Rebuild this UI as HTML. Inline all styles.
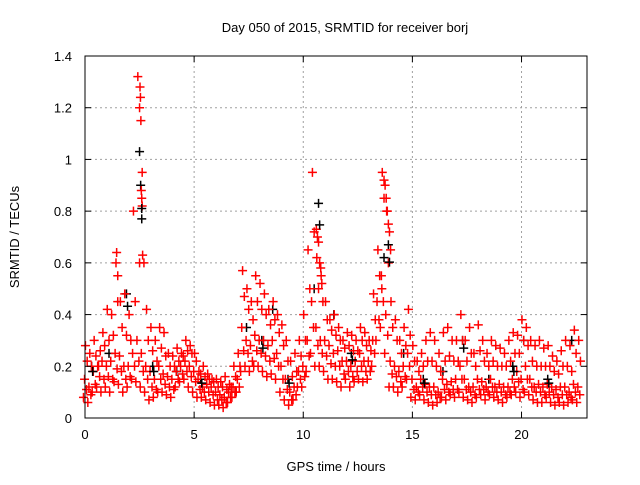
<!DOCTYPE html>
<html><head><meta charset="utf-8"><style>
body{margin:0;background:#fff;font-family:"Liberation Sans",sans-serif}
svg text{font-family:"Liberation Sans",sans-serif;font-size:13px;fill:#000}
</style></head><body>
<svg id="chart" width="640" height="480" xmlns="http://www.w3.org/2000/svg">
<rect width="640" height="480" fill="#fff"/>
<g id="grid"></g><g id="pts"></g><g id="axes"></g>
<text x="345" y="32" text-anchor="middle">Day 050 of 2015, SRMTID for receiver borj</text>
<text x="336" y="471" text-anchor="middle">GPS time / hours</text>
<text x="19" y="237" text-anchor="middle" transform="rotate(-90 19 237)">SRMTID / TECUs</text>
</svg>
<script>
const xTicks=[0,5,10,15,20];
const yTicks=[0,0.2,0.4,0.6,0.8,1,1.2,1.4];
const yTickLabels=["0","0.2","0.4","0.6","0.8","1","1.2","1.4"];
const hours=[0,0.2,0.4,0.6,0.8,1,1.2,1.4,1.6,1.8,2,2.2,2.4,2.6,2.8,3,3.2,3.4,3.6,3.8,4,4.2,4.4,4.6,4.8,5,5.2,5.4,5.6,5.8,6,6.2,6.4,6.6,6.8,7,7.2,7.4,7.6,7.8,8,8.2,8.4,8.6,8.8,9,9.2,9.4,9.6,9.8,10,10.2,10.4,10.6,10.8,11,11.2,11.4,11.6,11.8,12,12.2,12.4,12.6,12.8,13,13.2,13.4,13.6,13.8,14,14.2,14.4,14.6,14.8,15,15.2,15.4,15.6,15.8,16,16.2,16.4,16.6,16.8,17,17.2,17.4,17.6,17.8,18,18.2,18.4,18.6,18.8,19,19.2,19.4,19.6,19.8,20,20.2,20.4,20.6,20.8,21,21.2,21.4,21.6,21.8,22,22.2,22.4,22.6];
const hiVals=[.28,.25,.3,.2,.33,.42,.4,.6,.45,.48,.4,.8,1.32,.95,.42,.35,.3,.35,.33,.25,.24,.27,.25,.3,.28,.25,.18,.2,.17,.15,.15,.14,.16,.13,.2,.25,.57,.5,.45,.55,.52,.48,.42,.45,.4,.36,.3,.22,.25,.3,.4,.65,.95,.62,.55,.45,.38,.4,.35,.3,.33,.32,.3,.35,.33,.3,.48,.65,.95,.8,.45,.38,.3,.35,.42,.28,.22,.25,.3,.33,.3,.25,.33,.35,.3,.3,.4,.3,.35,.25,.36,.3,.25,.3,.28,.27,.25,.3,.33,.32,.38,.35,.3,.28,.3,.27,.28,.24,.22,.26,.3,.28,.34,.3];
const q3Vals=[.22,.2,.24,.26,.28,.3,.32,.45,.35,.32,.3,.45,1.2,.6,.3,.26,.22,.27,.24,.2,.2,.22,.24,.26,.25,.22,.17,.16,.15,.14,.12,.12,.11,.12,.16,.2,.47,.42,.38,.45,.42,.4,.36,.38,.33,.28,.22,.16,.18,.24,.3,.5,.72,.5,.45,.38,.34,.32,.3,.27,.28,.26,.26,.3,.28,.26,.38,.55,.85,.6,.35,.3,.25,.28,.32,.22,.18,.2,.22,.22,.2,.18,.22,.24,.22,.22,.3,.22,.25,.2,.26,.22,.2,.22,.2,.2,.2,.22,.25,.25,.3,.28,.22,.2,.2,.2,.2,.18,.17,.2,.2,.18,.25,.22];
const midVals=[.15,.12,.18,.2,.22,.2,.22,.25,.24,.2,.2,.25,.3,.25,.2,.18,.15,.2,.17,.16,.15,.18,.2,.22,.2,.18,.15,.12,.13,.12,.1,.09,.08,.1,.12,.15,.35,.3,.28,.32,.3,.3,.28,.3,.25,.2,.15,.1,.12,.18,.2,.3,.45,.35,.3,.3,.28,.25,.26,.22,.22,.2,.22,.25,.22,.22,.3,.45,.55,.4,.22,.2,.18,.2,.25,.15,.12,.15,.13,.12,.12,.1,.15,.13,.14,.15,.2,.15,.12,.12,.15,.14,.12,.15,.12,.13,.12,.12,.15,.18,.15,.2,.15,.12,.13,.12,.13,.12,.11,.12,.12,.1,.13,.12];
const q1Vals=[.11,.09,.13,.16,.15,.16,.15,.19,.18,.15,.16,.2,.22,.18,.15,.12,.11,.15,.13,.12,.11,.15,.17,.18,.16,.14,.11,.1,.1,.09,.07,.07,.06,.08,.1,.12,.26,.25,.22,.26,.25,.24,.22,.23,.2,.15,.11,.07,.09,.15,.16,.24,.35,.28,.25,.24,.21,.2,.2,.17,.18,.16,.18,.2,.18,.18,.25,.38,.45,.32,.17,.16,.14,.16,.2,.11,.1,.12,.1,.09,.09,.08,.11,.1,.11,.11,.15,.11,.1,.09,.11,.11,.1,.12,.1,.1,.09,.1,.12,.14,.11,.15,.12,.1,.1,.09,.1,.09,.08,.09,.09,.08,.1,.09];
const loVals=[.08,.06,.1,.12,.1,.12,.1,.14,.13,.1,.12,.15,.14,.12,.1,.07,.08,.1,.1,.09,.08,.12,.14,.15,.12,.1,.08,.08,.07,.06,.05,.05,.04,.06,.08,.1,.18,.2,.18,.2,.2,.18,.16,.17,.15,.1,.07,.05,.07,.12,.12,.18,.25,.2,.2,.18,.15,.15,.14,.12,.15,.12,.14,.15,.14,.15,.2,.3,.35,.25,.12,.12,.1,.12,.15,.08,.07,.09,.07,.06,.05,.06,.08,.07,.09,.08,.1,.08,.07,.06,.08,.09,.07,.09,.08,.07,.06,.08,.09,.1,.08,.1,.09,.07,.06,.06,.08,.06,.05,.06,.05,.06,.07,.06];
const spikeHours=[2.52,2.54,2.56,2.58,2.6,2.62,2.64,2.5,10.6,10.65,10.7,10.75,10.8,10.85,13.7,13.75,13.8,13.85,13.9,13.95,14.0,13.6,1.45,1.5];
const spikeVals=[1.28,1.24,1.15,0.88,0.85,0.82,0.63,0.6,0.73,0.7,0.68,0.6,0.58,0.52,0.92,0.9,0.85,0.8,0.75,0.72,0.65,0.5,0.64,0.55];
const blackHours=[0.3,1.1,1.9,2.5,2.55,2.6,3.1,4.2,5.3,7.4,8.1,8.6,9.3,10.5,10.7,11.4,12.2,13.7,13.9,14.6,15.5,16.4,17.3,18.5,19.6,20.1,21.2,22.3];
const blackVals=[.2,.25,.48,1.03,.9,.77,.2,.18,.15,.35,.3,.42,.15,.5,.83,.4,.25,.62,.67,.25,.15,.18,.3,.15,.2,.3,.15,.3];
const NS="http://www.w3.org/2000/svg";
const L=85,R=587,T=56,B=418,XMAX=23,YMAX=1.4;
function xs(v){return L+(R-L)*v/XMAX}
function ys(v){return B-(B-T)*v/YMAX}
function mk(tag,attrs,parent){const e=document.createElementNS(NS,tag);for(const k in attrs)e.setAttribute(k,attrs[k]);parent.appendChild(e);return e}
const grid=document.getElementById('grid'),axes=document.getElementById('axes'),pts=document.getElementById('pts');
xTicks.forEach((t,i)=>{const x=xs(t);
 if(i>0){const g=mk('line',{x1:x,x2:x,y1:T,y2:B,stroke:'#a0a0a0','stroke-dasharray':'2,3'},grid);
 
 }
 mk('line',{x1:x,x2:x,y1:B,y2:B-6,stroke:'#000'},axes);mk('line',{x1:x,x2:x,y1:T,y2:T+6,stroke:'#000'},axes);
 const tx=mk('text',{x:x,y:B+21,'text-anchor':'middle'},axes);tx.textContent=t;
 
 });
yTicks.forEach((t,i)=>{const y=ys(t);
 if(i>0&&i<yTicks.length-1){const g=mk('line',{x1:L,x2:R,y1:y,y2:y,stroke:'#a0a0a0','stroke-dasharray':'2,3'},grid);
 
 }
 mk('line',{x1:L,x2:L+6,y1:y,y2:y,stroke:'#000'},axes);mk('line',{x1:R,x2:R-6,y1:y,y2:y,stroke:'#000'},axes);
 const tx=mk('text',{x:L-13,y:y+5,'text-anchor':'end'},axes);tx.textContent=yTickLabels[i];
 
 });
const fr=mk('rect',{x:L,y:T,width:R-L,height:B-T,fill:'none',stroke:'#000'},axes);


function plus(x,y,c,name){const p=mk('path',{d:`M${x-4.5},${y}h9M${x},${y-4.5}v9`,stroke:c,'stroke-width':1.5,fill:'none'},pts);
 
 }
const series=[[loVals,-0.07],[q1Vals,0.07],[midVals,-0.02],[q3Vals,0.1],[hiVals,0.02]];
blackHours.forEach((h,i)=>plus(xs(h),ys(blackVals[i]),'#000','black-point'));
hours.forEach((h,i)=>{
 series.forEach(s=>plus(xs(h+s[1]),ys(s[0][i]),'#f00','red-point'));
});
spikeHours.forEach((h,i)=>plus(xs(h),ys(spikeVals[i]),'#f00','red-point'));
blackHours.forEach((h,i)=>{if(i%2===0)plus(xs(h+0.05),ys(blackVals[i]*0.9),'#000','black-point');});
</script>
</body></html>
